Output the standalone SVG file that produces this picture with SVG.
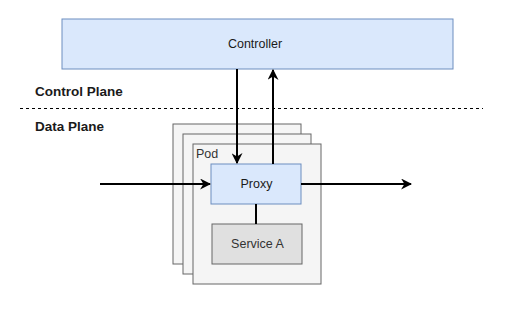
<svg xmlns="http://www.w3.org/2000/svg" width="532" height="310" viewBox="0 0 532 310">
<style>
text{font-family:"Liberation Sans",Arial,sans-serif;fill:#1a1a1a}
.lbl{font-size:12.5px;text-anchor:middle;dominant-baseline:central}
.plane{font-size:13.5px;font-weight:bold}
.pod{fill:#f5f5f5;stroke:#666666;stroke-width:1}
.edge{stroke:#000;stroke-width:2;fill:none}
</style>
<defs>
<marker id="ah" viewBox="0 0 10 10" refX="9" refY="5" markerWidth="5.5" markerHeight="5.5" orient="auto" markerUnits="strokeWidth">
<path d="M0,0 L10,5 L0,10 L3,5 Z" fill="#000"/>
</marker>
</defs>
<rect width="532" height="310" fill="#ffffff"/>
<g id="controller">
<rect x="62" y="19" width="391" height="50" fill="#dae8fc" stroke="#6c8ebf"/>
<text class="lbl" x="255" y="44">Controller</text>
</g>
<g id="control-plane-label"><text class="plane" x="35" y="96">Control Plane</text></g>
<line x1="20" y1="108.5" x2="483" y2="108.5" stroke="#000" stroke-width="1" stroke-dasharray="3,3"/>
<g id="data-plane-label"><text class="plane" x="35" y="131">Data Plane</text></g>
<g id="pod-stack">
<rect class="pod" x="173" y="124" width="128" height="140"/>
<rect class="pod" x="183" y="134" width="128" height="140"/>
<rect class="pod" x="193" y="144" width="128" height="140"/>
<text x="196" y="158" font-size="12.5" style="fill:#333">Pod</text>
</g>
<g id="proxy">
<rect x="211" y="164" width="90" height="40" fill="#dae8fc" stroke="#6c8ebf"/>
<text class="lbl" x="256.5" y="184">Proxy</text>
</g>
<g id="service-a">
<rect x="212" y="224" width="90" height="40" fill="#e0e0e0" stroke="#666666"/>
<text class="lbl" x="257.5" y="244" style="fill:#333">Service A</text>
</g>
<g id="connectors">
<line class="edge" x1="237" y1="69" x2="237" y2="163" marker-end="url(#ah)"/>
<line class="edge" x1="273" y1="164" x2="273" y2="70" marker-end="url(#ah)"/>
<line class="edge" x1="100" y1="184" x2="210" y2="184" marker-end="url(#ah)"/>
<line class="edge" x1="301" y1="184" x2="411" y2="184" marker-end="url(#ah)"/>
<line class="edge" x1="256" y1="204" x2="256" y2="224"/>
</g>
</svg>
